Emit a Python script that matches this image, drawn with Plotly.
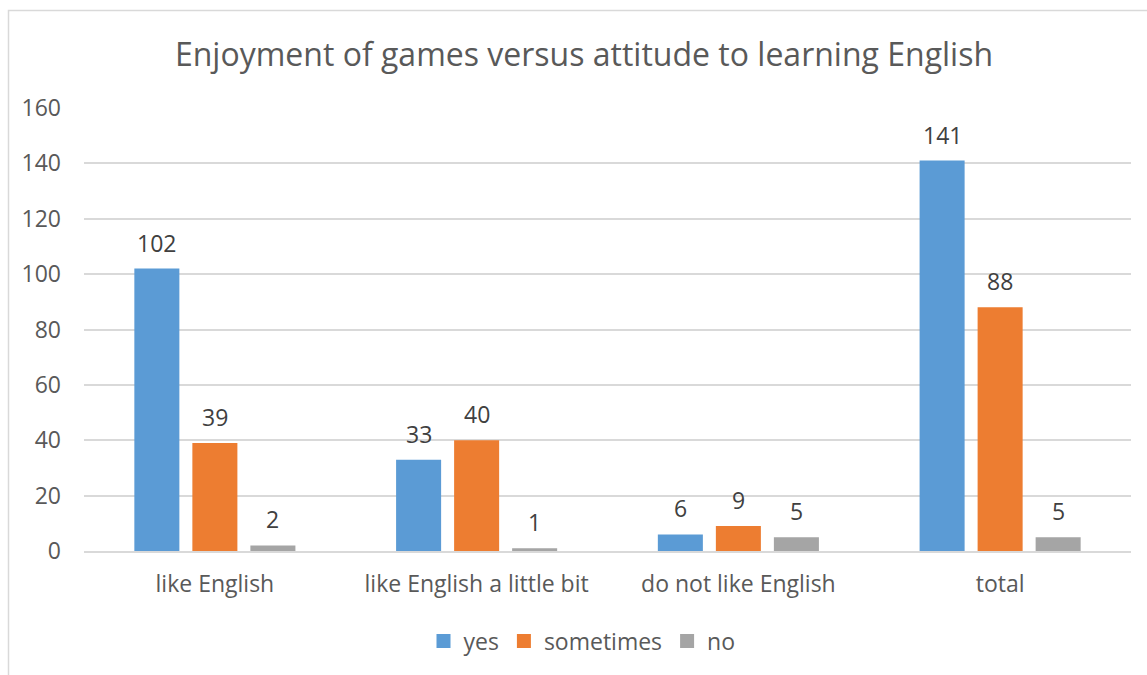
import plotly.graph_objects as go

categories = ["like English", "like English a little bit", "do not like English", "total"]
yes_vals = [102, 33, 6, 141]
sometimes_vals = [39, 40, 9, 88]
no_vals = [2, 1, 5, 5]
series_names = ["yes", "sometimes", "no"]
y_ticks = [0, 20, 40, 60, 80, 100, 120, 140, 160]

colors = ["#5B9BD5", "#ED7D31", "#A5A5A5"]
FONT = "Open Sans"

W, H = 1147, 675
L, R, T, B = 84, 16, 108, 124
plot_w = W - L - R
plot_h = H - T - B

fig = go.Figure()
series = [yes_vals, sometimes_vals, no_vals]
for name, vals, col in zip(series_names, series, colors):
    fig.add_trace(go.Bar(
        x=categories, y=vals, name=name, legendgroup=name, showlegend=False,
        marker=dict(color=col, line=dict(width=0)),
    ))
# legend entries with larger square swatches
for name, col in zip(series_names, colors):
    fig.add_trace(go.Scatter(
        x=[None], y=[None], mode="markers", name=name, legendgroup=name,
        marker=dict(symbol="square", size=14, color=col),
    ))

# value labels above each bar, offset to each bar's slot within the group
cat_w = plot_w / len(categories)
bargap = 0.335
slot = cat_w * (1 - bargap) / 3
for i, vals in enumerate(series):
    for c, v in zip(categories, vals):
        fig.add_annotation(
            x=c, y=v, text=str(v), showarrow=False,
            xshift=(i - 1) * slot, yshift=8, yanchor="bottom",
            font=dict(family=FONT, size=23, color="#404040"),
        )

# chart border
fig.add_shape(
    type="rect", xref="paper", yref="paper",
    x0=(8.5 - L) / plot_w, x1=1.2,
    y0=-0.5, y1=(H - B - 10.5) / plot_h,
    line=dict(color="#D9D9D9", width=1.5),
    fillcolor="rgba(0,0,0,0)", layer="below",
)

fig.update_layout(
    width=W, height=H,
    margin=dict(l=L, r=R, t=T, b=B),
    paper_bgcolor="white", plot_bgcolor="white",
    barmode="group", bargap=bargap, bargroupgap=0.224,
    title=dict(
        text="Enjoyment of games versus attitude to learning English",
        x=584 / W, xanchor="center", y=1 - 55 / H, yanchor="middle",
        font=dict(family=FONT, size=32, color="#595959"),
    ),
    font=dict(family=FONT, color="#595959"),
    legend=dict(
        orientation="h", x=(582 - L) / plot_w, xanchor="center",
        y=-(641 - (H - B)) / plot_h, yanchor="middle",
        font=dict(family=FONT, size=23, color="#595959"),
        itemwidth=30, traceorder="normal",
    ),
    xaxis=dict(
        showgrid=False, showline=True, linecolor="#D9D9D9", linewidth=1.5,
        tickfont=dict(family=FONT, size=23, color="#595959"),
        ticks="", ticklabelstandoff=12,
    ),
    yaxis=dict(
        range=[0, 160], tickvals=y_ticks,
        showgrid=True, gridcolor="#D9D9D9", gridwidth=1.5,
        zeroline=False, showline=False,
        tickfont=dict(family=FONT, size=23, color="#595959"),
        ticks="", ticklabelstandoff=22,
    ),
)

fig.write_html("out.html")
